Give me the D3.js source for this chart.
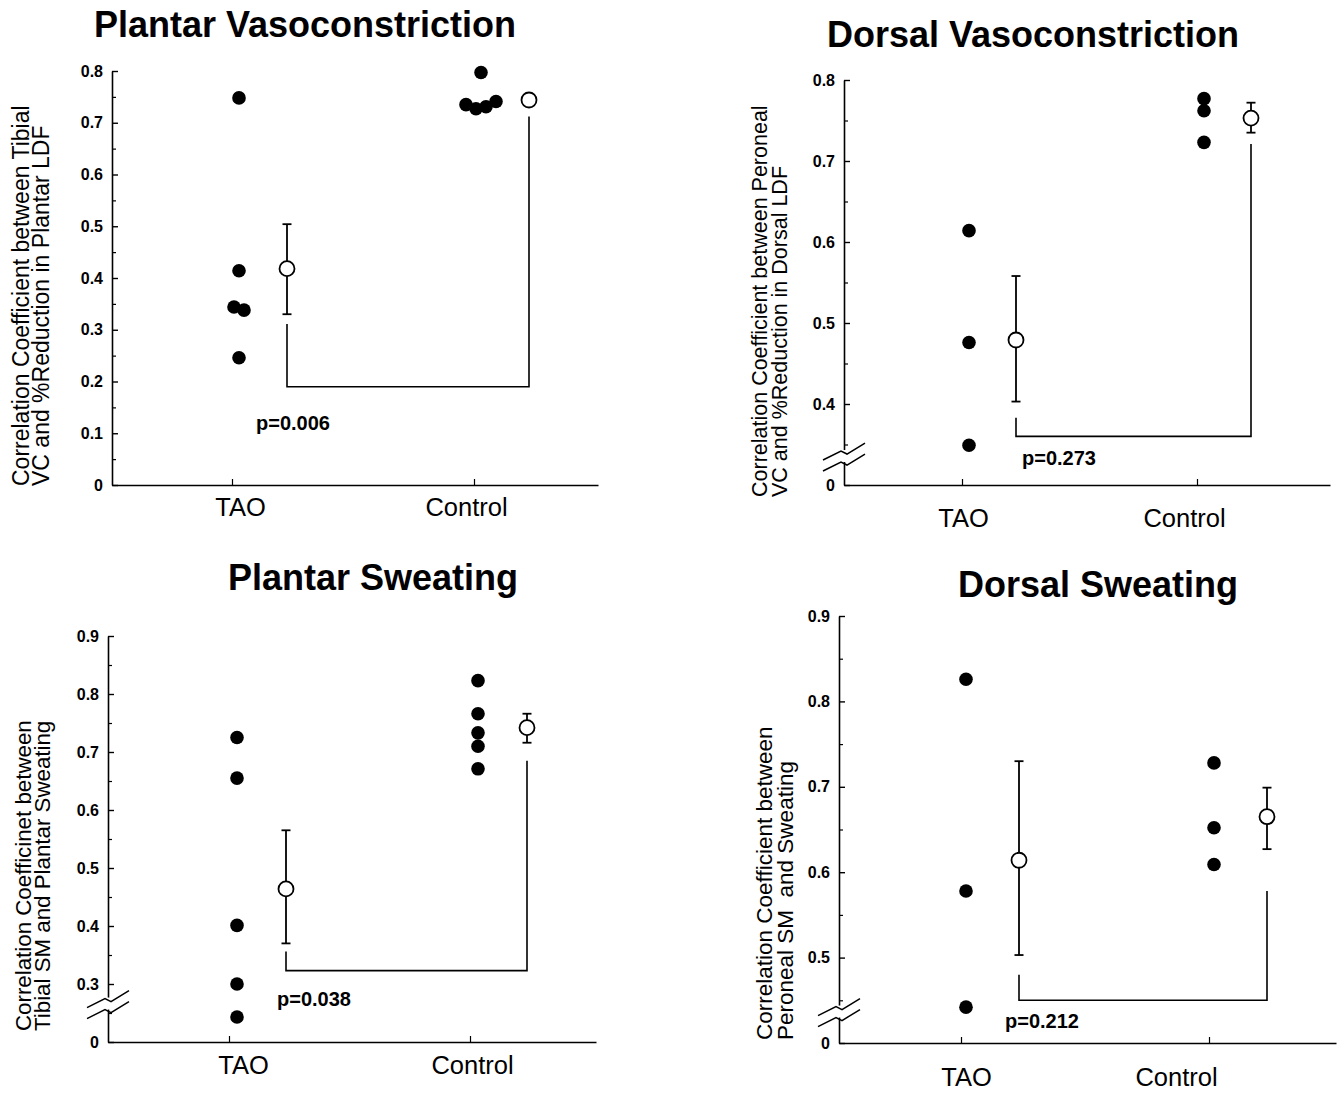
<!DOCTYPE html>
<html>
<head>
<meta charset="utf-8">
<script src="https://cdn.jsdelivr.net/npm/d3@7"></script>
<style>
  body { margin: 0; background: #fff; }
  svg { display: block; }
  text { font-family: "Liberation Sans", Arial, Helvetica, sans-serif; fill: #000; }
</style>
</head>
<body>
<script>
const groups = ["TAO", "Control"];

// Plantar vasoconstriction
const plantarVcTao = [0.748, 0.414, 0.344, 0.338, 0.246];
const plantarVcControl = [0.797, 0.735, 0.727, 0.731, 0.741];
const plantarVcMean = [0.418, 0.744];
const plantarVcErr = [[0.330, 0.504], [0.744, 0.744]];
const plantarVcBracket = [0.311, 0.712, 0.190];
const plantarVcTicks = [0, 0.1, 0.2, 0.3, 0.4, 0.5, 0.6, 0.7, 0.8];
const plantarVcTickLabels = ["0", "0.1", "0.2", "0.3", "0.4", "0.5", "0.6", "0.7", "0.8"];

// Dorsal vasoconstriction
const dorsalVcTao = [0.614, 0.476, 0.349];
const dorsalVcControl = [0.777, 0.762, 0.723];
const dorsalVcMean = [0.479, 0.753];
const dorsalVcErr = [[0.403, 0.558], [0.735, 0.772]];
const dorsalVcBracket = [0.383, 0.721, 0.360];
const dorsalVcTicks = [0.3, 0.4, 0.5, 0.6, 0.7, 0.8];
const dorsalVcTickLabels = ["0", "0.4", "0.5", "0.6", "0.7", "0.8"];

// Plantar sweating
const plantarSwTao = [0.725, 0.655, 0.401, 0.300, 0.243];
const plantarSwControl = [0.823, 0.766, 0.733, 0.710, 0.671];
const plantarSwMean = [0.464, 0.742];
const plantarSwErr = [[0.370, 0.565], [0.716, 0.766]];
const plantarSwBracket = [0.356, 0.685, 0.323];
const plantarSwTicks = [0.2, 0.3, 0.4, 0.5, 0.6, 0.7, 0.8, 0.9];
const plantarSwTickLabels = ["0", "0.3", "0.4", "0.5", "0.6", "0.7", "0.8", "0.9"];

// Dorsal sweating
const dorsalSwTao = [0.826, 0.578, 0.442];
const dorsalSwControl = [0.728, 0.652, 0.609];
const dorsalSwMean = [0.614, 0.665];
const dorsalSwErr = [[0.503, 0.730], [0.627, 0.699]];
const dorsalSwBracket = [0.480, 0.578, 0.450];
const dorsalSwTicks = [0.4, 0.5, 0.6, 0.7, 0.8, 0.9];
const dorsalSwTickLabels = ["0", "0.5", "0.6", "0.7", "0.8", "0.9"];

const titles = ["Plantar Vasoconstriction", "Dorsal Vasoconstriction", "Plantar Sweating", "Dorsal Sweating"];
const yTitles = [
    ["Correlation Coefficient between Tibial", "VC and %Reduction in Plantar LDF"],
    ["Correlation Coefficient between Peroneal", "VC and %Reduction in Dorsal LDF"],
    ["Correlation Coefficinet between", "Tibial SM and Plantar Sweating"],
    ["Correlation Coefficient between", "Peroneal SM  and Sweating"]
];
const pValues = ["p=0.006", "p=0.273", "p=0.038", "p=0.212"];

const panels = [
    {tao: plantarVcTao, ctrl: plantarVcControl, mean: plantarVcMean, err: plantarVcErr, bracket: plantarVcBracket,
     ticks: plantarVcTicks, labels: plantarVcTickLabels,
     axisX: 112, yTop: 71, yBottom: 485, taoTick: 232, ctrlTick: 474, axisEnd: 598, dotShift: 7, meanShift: 55,
     titleX: 305, titleY: 37, labX: 29, labY: 486, labSize: 23, labGap: 20,
     xLabY: 517, xLabDx: [8, -8], pX: 256, pY: 430, breakAt: null},
    {tao: dorsalVcTao, ctrl: dorsalVcControl, mean: dorsalVcMean, err: dorsalVcErr, bracket: dorsalVcBracket,
     ticks: dorsalVcTicks, labels: dorsalVcTickLabels,
     axisX: 844, yTop: 80, yBottom: 485, taoTick: 962, ctrlTick: 1197, axisEnd: 1330, dotShift: 7, meanShift: 54,
     titleX: 1033, titleY: 47, labX: 767, labY: 497, labSize: 21.5, labGap: 20,
     xLabY: 528, xLabDx: [1, -13], pX: 1022, pY: 465, breakAt: 0.337},
    {tao: plantarSwTao, ctrl: plantarSwControl, mean: plantarSwMean, err: plantarSwErr, bracket: plantarSwBracket,
     ticks: plantarSwTicks, labels: plantarSwTickLabels,
     axisX: 108, yTop: 636, yBottom: 1042, taoTick: 229, ctrlTick: 470, axisEnd: 596, dotShift: 8, meanShift: 57,
     titleX: 373, titleY: 590, labX: 31, labY: 1031, labSize: 22.3, labGap: 19,
     xLabY: 1075, xLabDx: [14, 2], pX: 277, pY: 1006, breakAt: 0.268},
    {tao: dorsalSwTao, ctrl: dorsalSwControl, mean: dorsalSwMean, err: dorsalSwErr, bracket: dorsalSwBracket,
     ticks: dorsalSwTicks, labels: dorsalSwTickLabels,
     axisX: 839, yTop: 616, yBottom: 1043, taoTick: 961, ctrlTick: 1209, axisEnd: 1336, dotShift: 5, meanShift: 58,
     titleX: 1098, titleY: 597, labX: 772, labY: 1040, labSize: 22.5, labGap: 21,
     xLabY: 1087, xLabDx: [5, -33], pX: 1005, pY: 1028, breakAt: 0.438}
];

const width = 1340;
const height = 1094;
const dotR = 6.8;
const meanR = 7.5;

const svg = d3.select("body")
    .append("svg")
    .attr("width", width)
    .attr("height", height);

panels.forEach(function (p, idx) {
    const g = svg.append("g");
    const step = p.ctrlTick - p.taoTick;
    const x = d3.scaleLinear()
        .domain([(p.axisX - p.taoTick) / step, (p.axisEnd - p.taoTick) / step])
        .range([p.axisX, p.axisEnd]);
    const y = d3.scaleLinear()
        .domain([p.ticks[0], p.ticks[p.ticks.length - 1]])
        .range([p.yBottom, p.yTop]);

    // title
    g.append("text")
        .attr("x", p.titleX)
        .attr("y", p.titleY)
        .attr("text-anchor", "middle")
        .style("font-size", "36px")
        .style("font-weight", "bold")
        .text(titles[idx]);

    // y axis, ticks inward
    const minor = d3.range(p.ticks.length - 1).map(i => (p.ticks[i] + p.ticks[i + 1]) / 2);
    const yAxis = g.append("g")
        .attr("transform", "translate(" + p.axisX + ",0)")
        .call(d3.axisLeft(y)
            .tickValues(p.ticks)
            .tickSizeInner(-6)
            .tickSizeOuter(0)
            .tickPadding(9)
            .tickFormat((d, i) => p.labels[i]));
    yAxis.select(".domain").attr("stroke-width", 1.6);
    yAxis.selectAll(".tick line").attr("stroke-width", 1.4);
    yAxis.selectAll(".tick text")
        .style("font-size", "16px")
        .style("font-weight", "bold");
    g.append("g")
        .attr("transform", "translate(" + p.axisX + ",0)")
        .call(d3.axisLeft(y).tickValues(minor).tickSizeInner(-4).tickSizeOuter(0).tickFormat(""))
        .call(s => s.select(".domain").remove())
        .selectAll(".tick line").attr("stroke-width", 1.2);

    // x axis
    const xAxis = g.append("g")
        .attr("transform", "translate(0," + p.yBottom + ")")
        .call(d3.axisBottom(x)
            .tickValues([0, 1])
            .tickSizeInner(-6)
            .tickSizeOuter(0)
            .tickPadding(p.xLabY - p.yBottom - 19)
            .tickFormat(i => groups[i]));
    xAxis.select(".domain").attr("stroke-width", 1.6);
    xAxis.selectAll(".tick line").attr("stroke-width", 1.2);
    xAxis.selectAll(".tick text")
        .attr("dx", (d, i) => p.xLabDx[i])
        .style("font-size", "25.5px");

    // axis break
    if (p.breakAt !== null) {
        const by = y(p.breakAt);
        const zig = d3.line()([[-21, 10], [-3, 1], [3, 4], [21, -7]]);
        const brk = g.append("g").attr("transform", "translate(" + p.axisX + "," + by + ")");
        brk.append("rect").attr("x", -3).attr("y", -5).attr("width", 6).attr("height", 12).attr("fill", "#fff");
        brk.append("path").attr("d", zig).attr("transform", "translate(0,-5)")
            .attr("fill", "none").attr("stroke", "#000").attr("stroke-width", 1.5);
        brk.append("path").attr("d", zig).attr("transform", "translate(0,6)")
            .attr("fill", "none").attr("stroke", "#000").attr("stroke-width", 1.5);
    }

    // y axis title, two lines
    const yt = g.append("text")
        .attr("transform", "translate(" + p.labX + "," + p.labY + ") rotate(-90)")
        .style("font-size", p.labSize + "px")
        .attr("xml:space", "preserve")
        .style("white-space", "pre");
    yTitles[idx].forEach(function (line, i) {
        yt.append("tspan")
            .attr("x", 0)
            .attr("y", i * p.labGap)
            .text(line);
    });

    // individual points: overlapping values laid side by side
    [p.tao, p.ctrl].forEach(function (vals, gi) {
        const clusters = [];
        const place = vals.map(function (v) {
            const py = y(v);
            let c = clusters.find(cl => cl.some(q => Math.abs(y(q) - py) < 8));
            if (!c) { c = []; clusters.push(c); }
            c.push(v);
            return {v: v, c: c, k: c.length - 1};
        });
        g.selectAll(null)
            .data(place)
            .enter().append("circle")
            .attr("cx", d => x(gi) + p.dotShift + (d.k - (d.c.length - 1) / 2) * 10)
            .attr("cy", d => y(d.v))
            .attr("r", dotR)
            .attr("fill", "#000");
    });

    // brackets
    const xl = x(0) + p.meanShift;
    const xr = x(1) + p.meanShift;
    g.append("path")
        .attr("d", d3.line()([[xl, y(p.bracket[0])], [xl, y(p.bracket[2])], [xr, y(p.bracket[2])], [xr, y(p.bracket[1])]]))
        .attr("fill", "none")
        .attr("stroke", "#000")
        .attr("stroke-width", 1.6);

    // mean +/- error
    p.mean.forEach(function (m, gi) {
        const cx = x(gi) + p.meanShift;
        const lo = p.err[gi][0];
        const hi = p.err[gi][1];
        if (hi > lo) {
            g.append("line").attr("x1", cx).attr("x2", cx).attr("y1", y(lo)).attr("y2", y(hi))
                .attr("stroke", "#000").attr("stroke-width", 1.8);
            [lo, hi].forEach(function (e) {
                g.append("line").attr("x1", cx - 4.5).attr("x2", cx + 4.5).attr("y1", y(e)).attr("y2", y(e))
                    .attr("stroke", "#000").attr("stroke-width", 1.8);
            });
        }
        g.append("circle")
            .attr("cx", cx)
            .attr("cy", y(m))
            .attr("r", meanR)
            .attr("fill", "#fff")
            .attr("stroke", "#000")
            .attr("stroke-width", 1.8);
    });

    // p value
    g.append("text")
        .attr("x", p.pX)
        .attr("y", p.pY)
        .style("font-size", "20px")
        .style("font-weight", "bold")
        .text(pValues[idx]);
});
</script>
</body>
</html>
